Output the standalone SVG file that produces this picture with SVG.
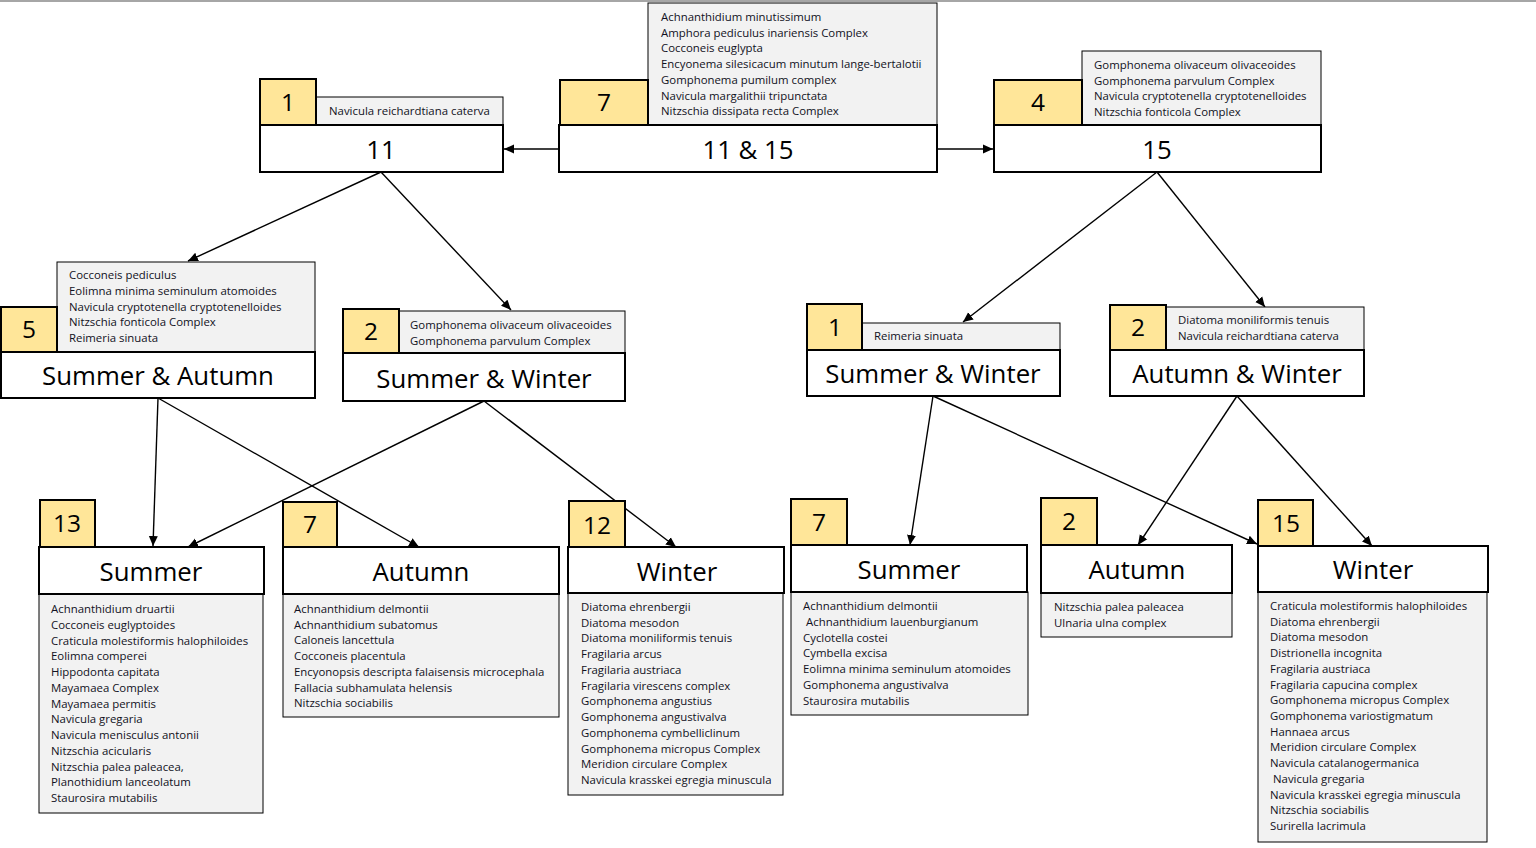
<svg xmlns="http://www.w3.org/2000/svg" width="1536" height="848" viewBox="0 0 1536 848">
<style>
.bg{fill:#ffffff}
.num{fill:#ffe699;stroke:#000;stroke-width:2}
.lst{fill:#f2f2f2;stroke:#000;stroke-width:1}
.ttl{fill:#ffffff;stroke:#000;stroke-width:2}
.nt{font-family:"Open Sans","Liberation Sans",sans-serif;font-size:24.5px;fill:#000;text-anchor:middle}
.tt{font-family:"Open Sans","Liberation Sans",sans-serif;font-size:25.8px;fill:#000;text-anchor:middle}
.lt{font-family:"Open Sans","Liberation Sans",sans-serif;font-size:11.4px;fill:#111122}
.cn{stroke:#000;stroke-width:1.4;fill:none;marker-end:url(#ah)}
</style>
<defs>
<marker id="ah" viewBox="0 0 10 10" refX="10" refY="5" markerWidth="10" markerHeight="10" markerUnits="userSpaceOnUse" orient="auto">
<path d="M0,0.5 L10,5 L0,9.5 z" fill="#000"/>
</marker>
</defs>
<rect class="bg" x="0" y="0" width="1536" height="848"/>
<line x1="0" y1="1" x2="1536" y2="1" stroke="#a6a6a6" stroke-width="2"/>

<g id="connectors">
<line class="cn" x1="559" y1="149" x2="504" y2="149"/>
<line class="cn" x1="937" y1="149" x2="993" y2="149"/>
<line class="cn" x1="381" y1="172" x2="188" y2="261"/>
<line class="cn" x1="381" y1="172" x2="511" y2="310"/>
<line class="cn" x1="1157" y1="172" x2="963" y2="322"/>
<line class="cn" x1="1157" y1="172" x2="1265" y2="307"/>
<line class="cn" x1="158" y1="398" x2="153" y2="546"/>
<line class="cn" x1="158" y1="398" x2="419" y2="547"/>
<line class="cn" x1="484" y1="401" x2="188" y2="547"/>
<line class="cn" x1="484" y1="401" x2="676" y2="547"/>
<line class="cn" x1="933" y1="396" x2="910" y2="545"/>
<line class="cn" x1="933" y1="396" x2="1257" y2="544"/>
<line class="cn" x1="1237" y1="396" x2="1138" y2="545"/>
<line class="cn" x1="1237" y1="396" x2="1372" y2="546"/>
</g>

<g id="n11">
<rect class="lst" x="316" y="97" width="187" height="28"/>
<rect class="num" x="260" y="79" width="56" height="46"/>
<rect class="ttl" x="260" y="125" width="243" height="47"/>
<text class="nt" x="288" y="111">1</text>
<text class="lt" x="329" y="115">Navicula reichardtiana caterva</text>
<text class="tt" x="381" y="159">11</text>
</g>

<g id="n11and15">
<rect class="lst" x="648" y="3" width="289" height="122"/>
<rect class="num" x="560" y="80" width="88" height="45"/>
<rect class="ttl" x="559" y="125" width="378" height="47"/>
<text class="nt" x="604" y="111">7</text>
<text class="lt" x="661" y="21">Achnanthidium minutissimum<tspan x="661" dy="15.7">Amphora pediculus inariensis Complex</tspan><tspan x="661" dy="15.7">Cocconeis euglypta</tspan><tspan x="661" dy="15.7">Encyonema silesicacum minutum lange-bertalotii</tspan><tspan x="661" dy="15.7">Gomphonema pumilum complex</tspan><tspan x="661" dy="15.7">Navicula margalithii tripunctata</tspan><tspan x="661" dy="15.7">Nitzschia dissipata recta Complex</tspan></text>
<text class="tt" x="748" y="159">11 &amp; 15</text>
</g>

<g id="n15">
<rect class="lst" x="1082" y="51" width="239" height="74"/>
<rect class="num" x="994" y="80" width="88" height="45"/>
<rect class="ttl" x="994" y="125" width="327" height="47"/>
<text class="nt" x="1038" y="111">4</text>
<text class="lt" x="1094" y="69">Gomphonema olivaceum olivaceoides<tspan x="1094" dy="15.6">Gomphonema parvulum Complex</tspan><tspan x="1094" dy="15.6">Navicula cryptotenella cryptotenelloides</tspan><tspan x="1094" dy="15.6">Nitzschia fonticola Complex</tspan></text>
<text class="tt" x="1157" y="159">15</text>
</g>

<g id="nSA">
<rect class="lst" x="57" y="262" width="258" height="90"/>
<rect class="num" x="1" y="307" width="56" height="45"/>
<rect class="ttl" x="1" y="352" width="314" height="46"/>
<text class="nt" x="29" y="338">5</text>
<text class="lt" x="69" y="279">Cocconeis pediculus<tspan x="69" dy="15.8">Eolimna minima seminulum atomoides</tspan><tspan x="69" dy="15.8">Navicula cryptotenella cryptotenelloides</tspan><tspan x="69" dy="15.8">Nitzschia fonticola Complex</tspan><tspan x="69" dy="15.8">Reimeria sinuata</tspan></text>
<text class="tt" x="158" y="385">Summer &amp; Autumn</text>
</g>

<g id="nSW1">
<rect class="lst" x="399" y="311" width="226" height="42"/>
<rect class="num" x="343" y="309" width="56" height="44"/>
<rect class="ttl" x="343" y="353" width="282" height="48"/>
<text class="nt" x="371" y="340">2</text>
<text class="lt" x="410" y="329">Gomphonema olivaceum olivaceoides<tspan x="410" dy="15.5">Gomphonema parvulum Complex</tspan></text>
<text class="tt" x="484" y="388">Summer &amp; Winter</text>
</g>

<g id="nSW2">
<rect class="lst" x="862" y="323" width="198" height="27"/>
<rect class="num" x="807" y="304" width="55" height="46"/>
<rect class="ttl" x="807" y="350" width="253" height="46"/>
<text class="nt" x="835" y="336">1</text>
<text class="lt" x="874" y="340">Reimeria sinuata</text>
<text class="tt" x="933" y="383">Summer &amp; Winter</text>
</g>

<g id="nAW">
<rect class="lst" x="1166" y="307" width="198" height="43"/>
<rect class="num" x="1110" y="305" width="56" height="45"/>
<rect class="ttl" x="1110" y="350" width="254" height="46"/>
<text class="nt" x="1138" y="336">2</text>
<text class="lt" x="1178" y="324">Diatoma moniliformis tenuis<tspan x="1178" dy="15.6">Navicula reichardtiana caterva</tspan></text>
<text class="tt" x="1237" y="383">Autumn &amp; Winter</text>
</g>

<g id="nS1">
<rect class="lst" x="39" y="594" width="224" height="219"/>
<rect class="num" x="40" y="500" width="55" height="47"/>
<rect class="ttl" x="39" y="547" width="225" height="47"/>
<text class="nt" x="67" y="532">13</text>
<text class="tt" x="151" y="581">Summer</text>
<text class="lt" x="51" y="613">Achnanthidium druartii<tspan x="51" dy="15.75">Cocconeis euglyptoides</tspan><tspan x="51" dy="15.75">Craticula molestiformis halophiloides</tspan><tspan x="51" dy="15.75">Eolimna comperei</tspan><tspan x="51" dy="15.75">Hippodonta capitata</tspan><tspan x="51" dy="15.75">Mayamaea Complex</tspan><tspan x="51" dy="15.75">Mayamaea permitis</tspan><tspan x="51" dy="15.75">Navicula gregaria</tspan><tspan x="51" dy="15.75">Navicula menisculus antonii</tspan><tspan x="51" dy="15.75">Nitzschia acicularis</tspan><tspan x="51" dy="15.75">Nitzschia palea paleacea,</tspan><tspan x="51" dy="15.75">Planothidium lanceolatum</tspan><tspan x="51" dy="15.75">Staurosira mutabilis</tspan></text>
</g>

<g id="nA1">
<rect class="lst" x="283" y="594" width="276" height="123"/>
<rect class="num" x="283" y="502" width="54" height="45"/>
<rect class="ttl" x="283" y="547" width="276" height="47"/>
<text class="nt" x="310" y="533">7</text>
<text class="tt" x="421" y="581">Autumn</text>
<text class="lt" x="294" y="613">Achnanthidium delmontii<tspan x="294" dy="15.7">Achnanthidium subatomus</tspan><tspan x="294" dy="15.7">Caloneis lancettula</tspan><tspan x="294" dy="15.7">Cocconeis placentula</tspan><tspan x="294" dy="15.7">Encyonopsis descripta falaisensis microcephala</tspan><tspan x="294" dy="15.7">Fallacia subhamulata helensis</tspan><tspan x="294" dy="15.7">Nitzschia sociabilis</tspan></text>
</g>

<g id="nW1">
<rect class="lst" x="568" y="593" width="215" height="202"/>
<rect class="num" x="569" y="501" width="56" height="46"/>
<rect class="ttl" x="568" y="547" width="216" height="46"/>
<text class="nt" x="597" y="534">12</text>
<text class="tt" x="677" y="581">Winter</text>
<text class="lt" x="581" y="611">Diatoma ehrenbergii<tspan x="581" dy="15.73">Diatoma mesodon</tspan><tspan x="581" dy="15.73">Diatoma moniliformis tenuis</tspan><tspan x="581" dy="15.73">Fragilaria arcus</tspan><tspan x="581" dy="15.73">Fragilaria austriaca</tspan><tspan x="581" dy="15.73">Fragilaria virescens complex</tspan><tspan x="581" dy="15.73">Gomphonema angustius</tspan><tspan x="581" dy="15.73">Gomphonema angustivalva</tspan><tspan x="581" dy="15.73">Gomphonema cymbelliclinum</tspan><tspan x="581" dy="15.73">Gomphonema micropus Complex</tspan><tspan x="581" dy="15.73">Meridion circulare Complex</tspan><tspan x="581" dy="15.73">Navicula krasskei egregia minuscula</tspan></text>
</g>

<g id="nS2">
<rect class="lst" x="791" y="592" width="237" height="123"/>
<rect class="num" x="791" y="499" width="56" height="46"/>
<rect class="ttl" x="791" y="545" width="236" height="47"/>
<text class="nt" x="819" y="531">7</text>
<text class="tt" x="909" y="579">Summer</text>
<text class="lt" x="803" y="610">Achnanthidium delmontii<tspan x="806" dy="15.8">Achnanthidium lauenburgianum</tspan><tspan x="803" dy="15.8">Cyclotella costei</tspan><tspan x="803" dy="15.8">Cymbella excisa</tspan><tspan x="803" dy="15.8">Eolimna minima seminulum atomoides</tspan><tspan x="803" dy="15.8">Gomphonema angustivalva</tspan><tspan x="803" dy="15.8">Staurosira mutabilis</tspan></text>
</g>

<g id="nA2">
<rect class="lst" x="1041" y="593" width="191" height="44"/>
<rect class="num" x="1041" y="498" width="56" height="47"/>
<rect class="ttl" x="1041" y="545" width="191" height="48"/>
<text class="nt" x="1069" y="530">2</text>
<text class="tt" x="1137" y="579">Autumn</text>
<text class="lt" x="1054" y="611">Nitzschia palea paleacea<tspan x="1054" dy="16">Ulnaria ulna complex</tspan></text>
</g>

<g id="nW2">
<rect class="lst" x="1258" y="592" width="229" height="250"/>
<rect class="num" x="1258" y="500" width="55" height="46"/>
<rect class="ttl" x="1258" y="546" width="230" height="46"/>
<text class="nt" x="1286" y="532">15</text>
<text class="tt" x="1373" y="579">Winter</text>
<text class="lt" x="1270" y="610">Craticula molestiformis halophiloides<tspan x="1270" dy="15.71">Diatoma ehrenbergii</tspan><tspan x="1270" dy="15.71">Diatoma mesodon</tspan><tspan x="1270" dy="15.71">Distrionella incognita</tspan><tspan x="1270" dy="15.71">Fragilaria austriaca</tspan><tspan x="1270" dy="15.71">Fragilaria capucina complex</tspan><tspan x="1270" dy="15.71">Gomphonema micropus Complex</tspan><tspan x="1270" dy="15.71">Gomphonema variostigmatum</tspan><tspan x="1270" dy="15.71">Hannaea arcus</tspan><tspan x="1270" dy="15.71">Meridion circulare Complex</tspan><tspan x="1270" dy="15.71">Navicula catalanogermanica</tspan><tspan x="1273" dy="15.71">Navicula gregaria</tspan><tspan x="1270" dy="15.71">Navicula krasskei egregia minuscula</tspan><tspan x="1270" dy="15.71">Nitzschia sociabilis</tspan><tspan x="1270" dy="15.71">Surirella lacrimula</tspan></text>
</g>
</svg>
